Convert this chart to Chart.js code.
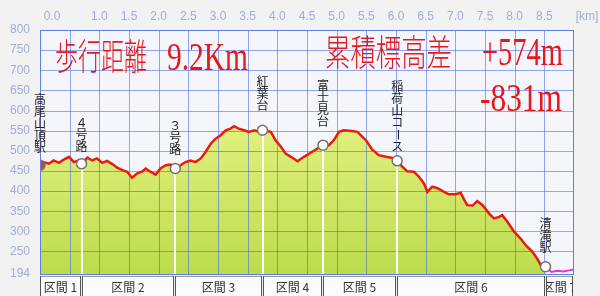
<!DOCTYPE html>
<html lang="ja">
<head>
  <meta charset="UTF-8">
  <title>高尾山 標高グラフ</title>
  <script src="https://cdn.jsdelivr.net/npm/chart.js"></script>
  <style>
    body {
      margin: 0;
      background: #f2f2f2;
    }
    #wrap {
      width: 600px;
      height: 296px;
    }
  </style>
</head>
<body>

<div id="wrap"><canvas id="profile" width="600" height="296"></canvas></div>

<script>
  // 距離 (km) と標高 (m)
  const distKm = [0.00, 0.06, 0.15, 0.23, 0.32, 0.40, 0.49, 0.57, 0.65, 0.70,
    0.80, 0.88, 0.96, 1.05, 1.13, 1.22, 1.30, 1.39, 1.47, 1.55,
    1.64, 1.72, 1.78, 1.86, 1.95, 2.03, 2.12, 2.20, 2.28, 2.37,
    2.45, 2.54, 2.62, 2.71, 2.79, 2.88, 2.96, 3.04, 3.13, 3.21,
    3.27, 3.35, 3.44, 3.52, 3.61, 3.67, 3.75, 3.89, 3.97, 4.06,
    4.14, 4.23, 4.34, 4.45, 4.56, 4.67, 4.77, 4.87, 4.95, 5.04,
    5.12, 5.26, 5.35, 5.43, 5.50, 5.60, 5.71, 5.83, 5.94, 6.02,
    6.11, 6.19, 6.30, 6.39, 6.47, 6.53, 6.61, 6.70, 6.81, 6.89,
    7.01, 7.09, 7.15, 7.20, 7.29, 7.37, 7.46, 7.57, 7.65, 7.74,
    7.79, 7.88, 7.99, 8.10, 8.19, 8.30, 8.38, 8.44, 8.52];
  const elevM = [464, 472, 468, 476, 470, 478, 485, 472, 476, 468,
    483, 476, 481, 470, 475, 467, 458, 452, 448, 433,
    444, 448, 456, 448, 441, 456, 464, 466, 456, 464,
    472, 476, 472, 481, 497, 518, 530, 538, 551, 555,
    561, 555, 551, 547, 551, 548, 551, 547, 526, 510,
    493, 485, 474, 485, 495, 505, 514, 514, 526, 547,
    551, 549, 547, 535, 525, 503, 489, 485, 482, 475,
    460, 449, 448, 435, 419, 398, 411, 407, 398, 392,
    392, 396, 378, 365, 364, 375, 365, 344, 332, 336,
    340, 323, 299, 282, 265, 249, 232, 216, 212];

  // 清滝駅から先 (ピンクの線)
  const tailKm = [8.52, 8.62, 8.72, 8.82, 8.92, 9.00];
  const tailM = [212, 199, 202, 200, 203, 205];

  // 地点
  const spotNames = ['高尾山頂駅', '４号路', '３号路', '紅葉台', '富士見台', '稲荷山コース', '清滝駅'];
  const spotKm = [0, 0.70, 2.28, 3.75, 4.77, 6.02, 8.52];
  const spotM = [464, 468, 456, 551, 514, 475, 212];

  const sectionNames = ['区間 1', '区間 2', '区間 3', '区間 4', '区間 5', '区間 6', '区間 7'];

  const xTickValues = [0, 0.5, 1, 1.5, 2, 2.5, 3, 3.5, 4, 4.5, 5, 5.5, 6, 6.5, 7, 7.5, 8, 8.5];
  const xTickLabels = ['0.0', '', '1.0', '1.5', '2.0', '2.5', '3.0', '3.5', '4.0', '4.5',
    '5.0', '5.5', '6.0', '6.5', '7.0', '7.5', '8.0', '8.5'];
  const yTicks = [194, 250, 300, 350, 400, 450, 500, 550, 600, 650, 700, 750, 800];

  const distText = ['歩行距離', '9.2Km'];
  const climbText = ['累積標高差', '+574m', '-831m'];

  // 見た目の設定
  const labelLift = [18, 17, 19, 25, 24, 14, 19];
  const axisColor = '#a3abd6';
  const gridColor = 'rgba(60, 100, 225, 0.55)';
  const red = '#e8171b';

  function fitText(ctx, text, left, right, base, font) {
    ctx.save();
    ctx.font = font;
    ctx.textAlign = 'left';
    ctx.textBaseline = 'alphabetic';
    const w = ctx.measureText(text).width;
    ctx.translate(left, base);
    ctx.scale((right - left) / w, 1);
    ctx.fillText(text, 0, 0);
    ctx.restore();
  }

  const profilePlugin = {
    id: 'profile',
    beforeDatasetsDraw(chart) {
      const { ctx, chartArea: a } = chart;
      ctx.save();
      ctx.fillStyle = '#f5f6fc';
      ctx.fillRect(a.left, a.top, a.width, a.height);
      ctx.restore();
    },
    afterDatasetDraw(chart, args) {
      if (args.index !== 0) return;
      const { ctx, chartArea: a, scales: { x, y } } = chart;
      ctx.save();
      // グリッド線 (塗りの上)
      ctx.strokeStyle = gridColor;
      ctx.lineWidth = 1;
      ctx.beginPath();
      xTickValues.slice(1).forEach(v => {
        const p = Math.round(x.getPixelForValue(v)) + 0.5;
        ctx.moveTo(p, a.top);
        ctx.lineTo(p, a.bottom);
      });
      yTicks.slice(1, -1).forEach(v => {
        const p = Math.round(y.getPixelForValue(v)) + 0.5;
        ctx.moveTo(a.left, p);
        ctx.lineTo(a.right, p);
      });
      ctx.stroke();
      // 地点から下への白線
      ctx.strokeStyle = '#ffffff';
      ctx.lineWidth = 2;
      ctx.beginPath();
      spotKm.slice(1).forEach((k, i) => {
        const p = Math.round(x.getPixelForValue(k));
        ctx.moveTo(p, y.getPixelForValue(spotM[i + 1]));
        ctx.lineTo(p, a.bottom);
      });
      ctx.stroke();
      ctx.restore();
    },
    afterDraw(chart) {
      const { ctx, chartArea: a, scales: { x, y } } = chart;
      ctx.save();

      // 枠
      ctx.strokeStyle = '#5c7ee6';
      ctx.lineWidth = 1;
      ctx.strokeRect(Math.round(a.left) + 0.5, Math.round(a.top) + 0.5,
        Math.round(a.width) - 1, Math.round(a.height));

      // 上の距離目盛り
      ctx.fillStyle = axisColor;
      ctx.font = '12px "Liberation Sans", Arial, sans-serif';
      ctx.textAlign = 'center';
      ctx.textBaseline = 'middle';
      xTickValues.forEach((v, i) => {
        const shift = i === 0 ? 12 : 0;
        ctx.fillText(xTickLabels[i], x.getPixelForValue(v) + shift, 17);
      });
      ctx.fillText('[km]', a.right + 13, 17);

      // 大きな赤い文字
      ctx.fillStyle = red;
      const cjk = '300 36px "Noto Sans CJK JP", sans-serif';
      const lat = '40px "Liberation Serif", "Times New Roman", serif';
      fitText(ctx, distText[0], 55, 147, 70, cjk);
      fitText(ctx, distText[1], 167, 248, 70, lat);
      fitText(ctx, climbText[0], 325, 452, 66, cjk);
      fitText(ctx, climbText[1], 482, 563, 65, lat);
      fitText(ctx, climbText[2], 480, 562, 111, lat);

      // 地点名 (縦書き)
      ctx.fillStyle = '#222';
      ctx.font = '12px "Noto Sans CJK JP", sans-serif';
      ctx.textAlign = 'center';
      ctx.textBaseline = 'middle';
      spotNames.forEach((name, i) => {
        const cx = x.getPixelForValue(spotKm[i]);
        const chars = Array.from(name);
        const bottom = y.getPixelForValue(spotM[i]) - labelLift[i];
        chars.forEach((ch, j) => {
          const cy = bottom - (chars.length - 1 - j) * 12;
          if (ch === 'ー') {
            ctx.save();
            ctx.translate(cx, cy);
            ctx.rotate(Math.PI / 2);
            ctx.fillText(ch, 0, 0);
            ctx.restore();
          } else {
            ctx.fillText(ch, cx, cy);
          }
        });
      });

      // 区間の帯
      const bounds = spotKm.concat([x.max]);
      const top = a.bottom + 2;
      const h = chart.height - top;
      sectionNames.forEach((name, i) => {
        const x0 = Math.round(x.getPixelForValue(bounds[i])) + 0.5;
        const x1 = Math.round(x.getPixelForValue(bounds[i + 1])) - 1.5;
        ctx.fillStyle = '#fbfbfb';
        ctx.fillRect(x0, top, x1 - x0, h);
        ctx.strokeStyle = '#9a9a9a';
        ctx.beginPath();
        ctx.moveTo(x0, top + 0.5);
        ctx.lineTo(x1, top + 0.5);
        ctx.stroke();
        ctx.strokeStyle = '#555';
        ctx.beginPath();
        ctx.moveTo(x0, top);
        ctx.lineTo(x0, top + h);
        ctx.moveTo(x1, top);
        ctx.lineTo(x1, top + h);
        ctx.stroke();
        ctx.save();
        ctx.beginPath();
        ctx.rect(x0, top, x1 - x0, h);
        ctx.clip();
        ctx.fillStyle = '#333';
        ctx.fillText(name, (x0 + x1) / 2, top + h / 2 + 1);
        ctx.restore();
      });

      ctx.restore();
    }
  };

  const linePts = distKm.map((k, i) => ({ x: k, y: elevM[i] }));

  new Chart(document.getElementById('profile'), {
    type: 'line',
    data: {
      datasets: [
        {
          // 塗り
          data: linePts,
          borderWidth: 0,
          pointRadius: 0,
          fill: 'start',
          order: 3,
          backgroundColor: (c) => {
            const a = c.chart.chartArea;
            if (!a) return '#c8e45a';
            const g = c.chart.ctx.createLinearGradient(0, a.top + 90, 0, a.bottom);
            g.addColorStop(0, '#e2f180');
            g.addColorStop(1, '#bcdc4c');
            return g;
          }
        },
        {
          // 赤い線
          data: linePts,
          borderColor: '#ea1c0e',
          borderWidth: 2.5,
          pointRadius: 0,
          fill: false,
          order: 2
        },
        {
          data: tailKm.map((k, i) => ({ x: k, y: tailM[i] })),
          borderColor: '#e23ac4',
          borderWidth: 2,
          pointRadius: 0,
          fill: false,
          order: 1
        },
        {
          type: 'scatter',
          data: spotKm.map((k, i) => ({ x: k, y: spotM[i] })),
          pointRadius: 5,
          pointBorderWidth: 1.5,
          pointBackgroundColor: spotKm.map((k, i) => i === 0 ? '#e03a3a' : '#ffffff'),
          pointBorderColor: '#707070',
          order: 0
        }
      ]
    },
    options: {
      responsive: false,
      animation: false,
      devicePixelRatio: 1,
      layout: { padding: { left: 0, top: 30, right: 26, bottom: 22 } },
      plugins: { legend: { display: false }, tooltip: { enabled: false } },
      scales: {
        x: {
          type: 'linear',
          display: false,
          min: 0,
          max: 9
        },
        y: {
          min: 194,
          max: 800,
          afterFit: s => { s.width = 40; },
          afterBuildTicks: s => { s.ticks = yTicks.map(v => ({ value: v })); },
          grid: { display: false, drawTicks: false },
          border: { display: false },
          ticks: {
            color: axisColor,
            padding: 10,
            font: { family: '"Liberation Sans", Arial, sans-serif', size: 12 }
          }
        }
      }
    },
    plugins: [profilePlugin]
  });
</script>
</body>
</html>
